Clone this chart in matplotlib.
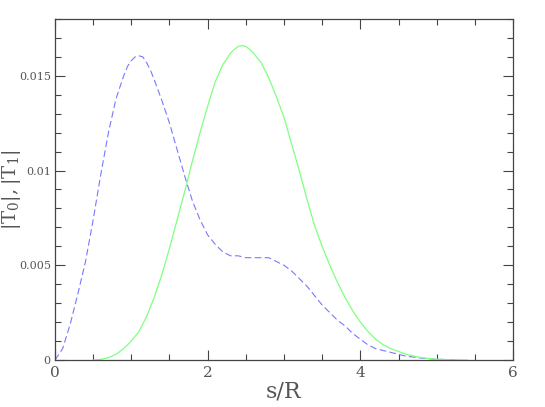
import matplotlib
matplotlib.use("Agg")
import matplotlib.pyplot as plt
from matplotlib.ticker import MultipleLocator

# |T0| (dashed blue)
s_t0 = [0.0, 0.1, 0.2, 0.3, 0.4, 0.5, 0.6, 0.7, 0.8, 0.9, 0.95, 1.0, 1.05,
        1.09, 1.15, 1.2, 1.25, 1.3, 1.4, 1.5, 1.6, 1.7, 1.8, 1.9, 2.0, 2.1,
        2.2, 2.3, 2.4, 2.5, 2.6, 2.7, 2.8, 2.9, 3.0, 3.1, 3.2, 3.3, 3.4, 3.5,
        3.6, 3.7, 3.8, 3.9, 4.0, 4.1, 4.2, 4.3, 4.4, 4.6, 4.8, 5.0, 5.3]
t0 = [0.0, 0.0006, 0.0019, 0.0035, 0.0052, 0.0074, 0.0098, 0.0120, 0.0138,
      0.0150, 0.0155, 0.0158, 0.0160, 0.01607, 0.0160, 0.0157, 0.0153, 0.0148,
      0.0137, 0.0125, 0.0111, 0.0097, 0.0084, 0.0074, 0.0066, 0.0061, 0.0057,
      0.0055, 0.0055, 0.0054, 0.0054, 0.0054, 0.0054, 0.0052, 0.0050, 0.0047,
      0.0043, 0.0039, 0.0034, 0.0029, 0.0025, 0.0021, 0.0018, 0.0014, 0.0011,
      0.0008, 0.0006, 0.0005, 0.0004, 0.0002, 0.0001, 0.00004, 0.0]

# |T1| (solid green)
s_t1 = [0.5, 0.6, 0.7, 0.8, 0.9, 1.0, 1.1, 1.2, 1.3, 1.4, 1.5, 1.6, 1.7, 1.8,
        1.9, 2.0, 2.1, 2.2, 2.3, 2.35, 2.4, 2.45, 2.5, 2.55, 2.6, 2.7, 2.8,
        2.9, 3.0, 3.1, 3.2, 3.3, 3.4, 3.5, 3.6, 3.7, 3.8, 3.9, 4.0, 4.1, 4.2,
        4.3, 4.4, 4.5, 4.6, 4.8, 5.0, 5.2, 5.4]
t1 = [0.0, 0.00003, 0.00012, 0.0003, 0.0006, 0.0010, 0.0015, 0.0023, 0.0033,
      0.0045, 0.0059, 0.0074, 0.0089, 0.0105, 0.0120, 0.0134, 0.0147, 0.0156,
      0.0162, 0.0164, 0.01655, 0.0166, 0.01655, 0.0164, 0.0162, 0.0157, 0.0149,
      0.0139, 0.0128, 0.0114, 0.0100, 0.0085, 0.0071, 0.0060, 0.0050, 0.0041,
      0.0033, 0.0026, 0.0020, 0.0015, 0.0011, 0.0008, 0.0006, 0.00045, 0.0003,
      0.00012, 0.00004, 0.00001, 0.0]

x_ticks = [0, 2, 4, 6]
x_labels = ['0', '2', '4', '6']
y_ticks = [0, 0.005, 0.01, 0.015]
y_labels = ['0', '0.005', '0.01', '0.015']

plt.rcParams['font.family'] = ['DejaVu Serif']
plt.rcParams['mathtext.fontset'] = 'dejavuserif'

fig = plt.figure(figsize=(5.45, 4.07), dpi=100)
ax = fig.add_axes([0.1009, 0.1155, 0.8404, 0.8378])

ax.plot(s_t0, t0, color='#7878ff', linestyle=(0, (6, 3)), linewidth=0.8)
ax.plot(s_t1, t1, color='#80ff80', linestyle='-', linewidth=0.9)

ax.set_xlim(0, 6)
ax.set_ylim(0, 0.018)
ax.set_xticks(x_ticks)
ax.set_xticklabels(x_labels)
ax.set_yticks(y_ticks)
ax.set_yticklabels(y_labels)
ax.xaxis.set_minor_locator(MultipleLocator(0.5))
ax.yaxis.set_minor_locator(MultipleLocator(0.001))

ax.tick_params(which='both', direction='in', top=True, right=True,
               color='#444444', labelcolor='#555555')
ax.tick_params(which='major', length=7, width=0.8)
ax.tick_params(which='minor', length=4, width=0.8)
ax.tick_params(axis='x', labelsize=11, pad=4)
ax.tick_params(axis='y', labelsize=8, pad=3)
for sp in ax.spines.values():
    sp.set_color('#444444')
    sp.set_linewidth(0.9)

ax.set_xlabel('s/R', fontsize=16, color='#555555', labelpad=1)
ax.set_ylabel(r'$|\mathrm{T}_0|,|\mathrm{T}_1|$', fontsize=14, color='#555555')
ax.yaxis.set_label_coords(-0.07, 0.5)

plt.savefig('out.png', dpi=100)
